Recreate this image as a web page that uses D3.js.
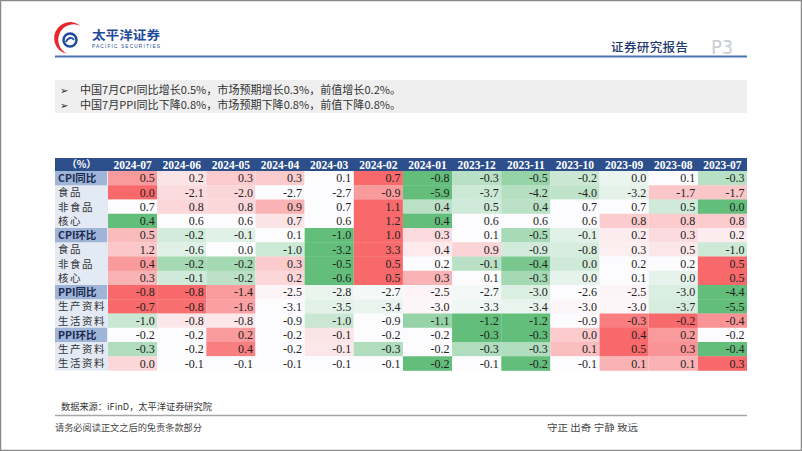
<!DOCTYPE html>
<html><head><meta charset="utf-8">
<script src="https://cdn.jsdelivr.net/npm/d3@7"></script>
<style>html,body{margin:0;padding:0;background:#fff;}svg{display:block;}</style>
</head><body>
<svg id="chart" width="802" height="451"></svg>
<script>
// ---------- data ----------
const months = ["2024-07","2024-06","2024-05","2024-04","2024-03","2024-02","2024-01","2023-12","2023-11","2023-10","2023-09","2023-08","2023-07"];
const rowLabels = ["CPI同比","食品","非食品","核心","CPI环比","食品","非食品","核心","PPI同比","生产资料","生活资料","PPI环比","生产资料","生活资料"];
const groupRows = ["CPI同比","CPI环比","PPI同比","PPI环比"];
const cpiYoY        = [0.5, 0.2, 0.3, 0.3, 0.1, 0.7, -0.8, -0.3, -0.5, -0.2, 0.0, 0.1, -0.3];
const cpiYoYFood    = [0.0, -2.1, -2.0, -2.7, -2.7, -0.9, -5.9, -3.7, -4.2, -4.0, -3.2, -1.7, -1.7];
const cpiYoYNonFood = [0.7, 0.8, 0.8, 0.9, 0.7, 1.1, 0.4, 0.5, 0.4, 0.7, 0.7, 0.5, 0.0];
const cpiYoYCore    = [0.4, 0.6, 0.6, 0.7, 0.6, 1.2, 0.4, 0.6, 0.6, 0.6, 0.8, 0.8, 0.8];
const cpiMoM        = [0.5, -0.2, -0.1, 0.1, -1.0, 1.0, 0.3, 0.1, -0.5, -0.1, 0.2, 0.3, 0.2];
const cpiMoMFood    = [1.2, -0.6, 0.0, -1.0, -3.2, 3.3, 0.4, 0.9, -0.9, -0.8, 0.3, 0.5, -1.0];
const cpiMoMNonFood = [0.4, -0.2, -0.2, 0.3, -0.5, 0.5, 0.2, -0.1, -0.4, 0.0, 0.2, 0.2, 0.5];
const cpiMoMCore    = [0.3, -0.1, -0.2, 0.2, -0.6, 0.5, 0.3, 0.1, -0.3, 0.0, 0.1, 0.0, 0.5];
const ppiYoY        = [-0.8, -0.8, -1.4, -2.5, -2.8, -2.7, -2.5, -2.7, -3.0, -2.6, -2.5, -3.0, -4.4];
const ppiYoYProd    = [-0.7, -0.8, -1.6, -3.1, -3.5, -3.4, -3.0, -3.3, -3.4, -3.0, -3.0, -3.7, -5.5];
const ppiYoYLiving  = [-1.0, -0.8, -0.8, -0.9, -1.0, -0.9, -1.1, -1.2, -1.2, -0.9, -0.3, -0.2, -0.4];
const ppiMoM        = [-0.2, -0.2, 0.2, -0.2, -0.1, -0.2, -0.2, -0.3, -0.3, 0.0, 0.4, 0.2, -0.2];
const ppiMoMProd    = [-0.3, -0.2, 0.4, -0.2, -0.1, -0.3, -0.2, -0.3, -0.3, 0.1, 0.5, 0.3, -0.4];
const ppiMoMLiving  = [0.0, -0.1, -0.1, -0.1, -0.1, -0.1, -0.2, -0.1, -0.2, -0.1, 0.1, 0.1, 0.3];
const rowValues = [cpiYoY, cpiYoYFood, cpiYoYNonFood, cpiYoYCore, cpiMoM, cpiMoMFood, cpiMoMNonFood, cpiMoMCore,
                   ppiYoY, ppiYoYProd, ppiYoYLiving, ppiMoM, ppiMoMProd, ppiMoMLiving];
const bullets = ["中国7月CPI同比增长0.5%，市场预期增长0.3%，前值增长0.2%。",
                 "中国7月PPI同比下降0.8%，市场预期下降0.8%，前值下降0.8%。"];
const headerCorner = "（%）";
const sourceText = "数据来源：iFinD，太平洋证券研究院";
const footLeft = "请务必阅读正文之后的免责条款部分";
const footRight = "守正 出奇 宁静 致远";

// ---------- drawing ----------
const svg = d3.select("#chart");
const CJK = "'Noto Sans CJK SC','Noto Sans',sans-serif";
const SERIF = "'Liberation Serif','Times New Roman',serif";
const fmt = d3.formatLocale({decimal:".", thousands:",", grouping:[3], currency:["",""], minus:"-"}).format(".1f");

// page frame
svg.append("rect").attr("x",0.5).attr("y",0.5).attr("width",801).attr("height",450)
  .attr("fill","#fff").attr("stroke","#8a8a8a").attr("stroke-width",1.5);

// logo
const logo = svg.append("g");
logo.append("path")
  .attr("d","M80.3,25.7 A16,16 0 1 0 67.2,53.8 A15.5,15.5 0 1 1 80.3,25.7 Z")
  .attr("fill","#e8262d");
logo.append("circle").attr("cx",70).attr("cy",40).attr("r",6.5).attr("fill","none")
  .attr("stroke","#1f4b9c").attr("stroke-width",2.5);
logo.append("path").attr("d","M66,42 C68,37 72,37 74,40").attr("fill","none").attr("stroke","#1f4b9c").attr("stroke-width",1.8);
logo.append("text").attr("x",92).attr("y",39.5).text("太平洋证券")
  .attr("font-family",CJK).attr("font-weight","bold").attr("font-size",12.5).attr("fill","#1f4b9c")
  .attr("textLength",68).attr("lengthAdjust","spacingAndGlyphs");
logo.append("text").attr("x",92).attr("y",47.5).text("PACIFIC SECURITIES")
  .attr("font-family","'Liberation Sans',Arial,sans-serif").attr("font-size",4.8).attr("fill","#1f4b9c")
  .attr("textLength",68).attr("lengthAdjust","spacing");

svg.append("text").attr("x",611).attr("y",52).text("证券研究报告")
  .attr("font-family",CJK).attr("font-size",12.5).attr("font-weight","500").attr("fill","#1f3a6e")
  .attr("textLength",77).attr("lengthAdjust","spacing");
svg.append("text").attr("x",711).attr("y",54).text("P3")
  .attr("font-family","'Liberation Sans Narrow','DejaVu Sans Condensed',sans-serif").attr("font-size",20).attr("fill","#c9cdd3");
svg.append("line").attr("x1",55).attr("x2",747).attr("y1",56.5).attr("y2",56.5)
  .attr("stroke","#4a74b4").attr("stroke-width",2);

// bullet box
svg.append("rect").attr("x",55).attr("y",80).attr("width",692).attr("height",33).attr("fill","#efefef");
bullets.forEach((t,i)=>{
  const y = 93.5 + i*15.5;
  svg.append("text").attr("x",60).attr("y",y).text("➢").attr("font-family","'DejaVu Sans',sans-serif")
    .attr("font-size",10).attr("fill","#222");
  svg.append("text").attr("x",80).attr("y",y).text(t).attr("font-family",CJK)
    .attr("font-size",11).attr("fill","#333").attr("textLength",321).attr("lengthAdjust","spacingAndGlyphs");
});

// table scales
const x = d3.scaleBand().domain(months).range([108, 747]);
const rowIdx = d3.range(rowLabels.length);
const y = d3.scaleBand().domain(rowIdx).range([171, 370.5]);
const headerTop = 158;

// header
svg.append("rect").attr("x",55).attr("y",headerTop).attr("width",747-55).attr("height",171-headerTop).attr("fill","#2c4f8c");
svg.append("text").attr("x",(55+108)/2).attr("y",168.3).attr("text-anchor","middle").text(headerCorner)
  .attr("font-family",CJK).attr("font-size",10).attr("font-weight","bold").attr("fill","#fff");
svg.selectAll("text.mh").data(months).join("text").attr("class","mh")
  .attr("x",d=>x(d)+x.bandwidth()/2).attr("y",168.5).attr("text-anchor","middle").text(d=>d)
  .attr("font-family",SERIF).attr("font-weight","bold").attr("font-size",11.5).attr("fill","#fff");

// label column
svg.append("rect").attr("x",55).attr("y",171).attr("width",53).attr("height",370.5-171).attr("fill","#e3eaf4");
const lab = svg.selectAll("g.lab").data(rowIdx).join("g").attr("class","lab");
lab.filter(i=>groupRows.includes(rowLabels[i])).append("rect")
  .attr("x",55).attr("y",i=>y(i)).attr("width",52).attr("height",y.bandwidth()).attr("fill","#9fb5d8");
lab.append("text").attr("x",58).attr("y",i=>y(i)+y.bandwidth()/2+4).text(i=>rowLabels[i])
  .attr("font-family",CJK).attr("font-size",10.5)
  .attr("font-weight",i=>groupRows.includes(rowLabels[i])?"bold":"normal")
  .attr("letter-spacing",i=>groupRows.includes(rowLabels[i])?0:1.5)
  .attr("fill",i=>groupRows.includes(rowLabels[i])?"#1a2a50":"#333");

// cells with per-row 3-colour scale (min green, median white, max red)
const cells = [];
rowValues.forEach((vals,ri)=>{
  const sorted = vals.slice().sort(d3.ascending);
  const c = d3.scaleLinear()
    .domain([d3.min(vals), d3.quantile(sorted,0.5), d3.max(vals)])
    .range(["#63BE7B","#FCFCFF","#F8696B"]).clamp(true);
  vals.forEach((v,ci)=>cells.push({r:ri, m:months[ci], v, fill:c(v)}));
});
const g = svg.append("g");
g.selectAll("rect.cell").data(cells).join("rect").attr("class","cell")
  .attr("x",d=>x(d.m)).attr("y",d=>y(d.r)).attr("width",x.bandwidth()).attr("height",y.bandwidth()+0.3)
  .attr("fill",d=>d.fill);
g.selectAll("text.cv").data(cells).join("text").attr("class","cv")
  .attr("x",d=>x(d.m)+x.bandwidth()-2.5).attr("y",d=>y(d.r)+y.bandwidth()/2+4.2)
  .attr("text-anchor","end").text(d=>fmt(d.v))
  .attr("font-family",SERIF).attr("font-size",12).attr("fill","#222");

// source & footer
svg.append("text").attr("x",61).attr("y",410).text(sourceText).attr("font-family",CJK)
  .attr("font-size",9).attr("fill","#333").attr("textLength",151).attr("lengthAdjust","spacingAndGlyphs");
svg.append("line").attr("x1",55).attr("x2",747).attr("y1",415.5).attr("y2",415.5).attr("stroke","#a6a6a6").attr("stroke-width",1.5);
svg.append("text").attr("x",55).attr("y",431).text(footLeft).attr("font-family",CJK)
  .attr("font-size",9).attr("fill","#444").attr("textLength",147).attr("lengthAdjust","spacingAndGlyphs");
svg.append("text").attr("x",547).attr("y",431).text(footRight).attr("font-family",CJK)
  .attr("font-size",9).attr("fill","#444").attr("textLength",91).attr("lengthAdjust","spacingAndGlyphs");
</script>
</body></html>
